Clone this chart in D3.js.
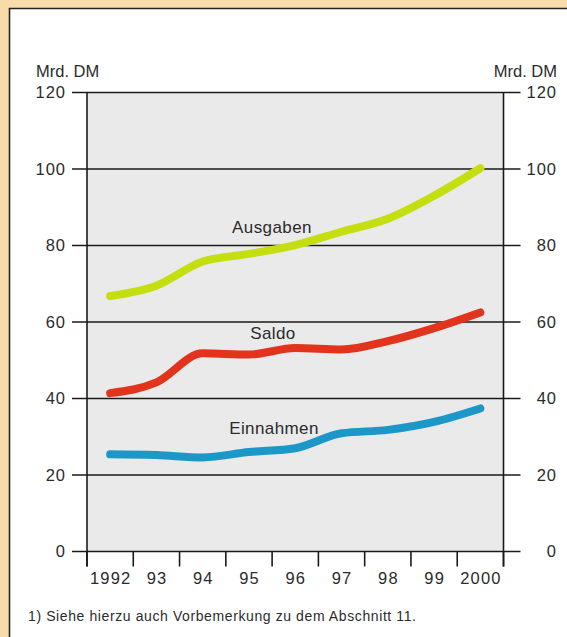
<!DOCTYPE html>
<html><head><meta charset="utf-8">
<script src="https://cdn.jsdelivr.net/npm/d3@7"></script>
<style>body{margin:0;background:#f7dcaa;}svg{display:block;font-family:"Liberation Sans",Arial,sans-serif;}</style>
</head><body>
<script>
const years = ["1992","1993","1994","1995","1996","1997","1998","1999","2000"];
const yearLabels = ["1992","93","94","95","96","97","98","99","2000"];
const ausgaben = [66.8, 69.5, 75.8, 77.8, 80.1, 83.6, 87.0, 93.0, 100.2];
const saldo = [41.4, 44.2, 51.8, 51.5, 53.2, 52.8, 55.0, 58.4, 62.5];
const einnahmen = [25.4, 25.2, 24.6, 26.0, 27.0, 30.9, 31.8, 33.9, 37.4];
const yTicks = [0, 20, 40, 60, 80, 100, 120];
const seriesNames = ["Ausgaben", "Saldo", "Einnahmen"];
const unit = "Mrd. DM";
const footnote = "1) Siehe hierzu auch Vorbemerkung zu dem Abschnitt 11.";

const W = 567, H = 637;
const svg = d3.select("body").append("svg").attr("width", W).attr("height", H);
// panel
svg.append("rect").attr("x", 9).attr("y", 9).attr("width", W - 9).attr("height", H - 9).attr("fill", "#fff");
svg.append("path").attr("d", `M9.5,${H}V8.5H${W}`).attr("fill", "none").attr("stroke", "#222").attr("stroke-width", 1.6);

const x = d3.scaleBand().domain(years).range([87, 503.5]);
const y = d3.scaleLinear().domain([0, 120]).range([551.5, 92.5]);

svg.append("rect").attr("x", x.range()[0]).attr("y", y(120)).attr("width", x.range()[1] - x.range()[0]).attr("height", y(0) - y(120)).attr("fill", "#eaeaeb");

const ink = "#1a1a1a";
// gridlines
svg.append("g").selectAll("line").data(yTicks).join("line")
  .attr("x1", x.range()[0] - 15).attr("x2", x.range()[1] + 17)
  .attr("y1", d => y(d)).attr("y2", d => y(d))
  .attr("stroke", ink).attr("stroke-width", 1.3);
// vertical axes
[x.range()[0], x.range()[1]].forEach(xx => {
  svg.append("line").attr("x1", xx).attr("x2", xx).attr("y1", y(120)).attr("y2", y(0) + 15)
    .attr("stroke", ink).attr("stroke-width", 1.6);
});
// x ticks at band boundaries
const bounds = years.map(d => x(d)).concat([x.range()[1]]);
svg.append("g").selectAll("line").data(bounds).join("line")
  .attr("x1", d => d).attr("x2", d => d).attr("y1", y(0)).attr("y2", y(0) + 15)
  .attr("stroke", ink).attr("stroke-width", 1.6);

const txt = "#2b2b2b";
// y labels
svg.append("g").selectAll("text").data(yTicks).join("text")
  .attr("x", 66).attr("y", d => y(d)).attr("dy", "0.36em").attr("text-anchor", "end")
  .attr("font-size", 16.5).attr("letter-spacing", 1).attr("fill", txt).text(d => d);
svg.append("g").selectAll("text").data(yTicks).join("text")
  .attr("x", 557).attr("y", d => y(d)).attr("dy", "0.36em").attr("text-anchor", "end")
  .attr("font-size", 16.5).attr("letter-spacing", 1).attr("fill", txt).text(d => d);
svg.append("text").attr("x", 36).attr("y", 77).attr("font-size", 16.5).attr("fill", txt).text(unit);
svg.append("text").attr("x", 557).attr("y", 77).attr("text-anchor", "end").attr("font-size", 16.5).attr("fill", txt).text(unit);
// x labels
svg.append("g").selectAll("text").data(years).join("text")
  .attr("x", d => x(d) + x.bandwidth() / 2 + 0.6).attr("y", 584).attr("text-anchor", "middle")
  .attr("font-size", 16.5).attr("letter-spacing", 1.2).attr("fill", txt).text((d, i) => yearLabels[i]);

// lines
const line = d3.line().x((d, i) => x(years[i]) + x.bandwidth() / 2).y(d => y(d)).curve(d3.curveMonotoneX);
const series = [
  {name: seriesNames[0], values: ausgaben, color: "#c4de10"},
  {name: seriesNames[1], values: saldo, color: "#e2331c"},
  {name: seriesNames[2], values: einnahmen, color: "#1c98c8"}
];
svg.append("g").selectAll("path").data(series).join("path")
  .attr("d", d => line(d.values)).attr("fill", "none").attr("stroke", d => d.color)
  .attr("stroke-width", 8).attr("stroke-linecap", "round").attr("stroke-linejoin", "round");

// series labels
const labelPos = [{x: 272, y: 232.5}, {x: 273, y: 339}, {x: 274, y: 434}];
svg.append("g").selectAll("text").data(series).join("text")
  .attr("x", (d, i) => labelPos[i].x).attr("y", (d, i) => labelPos[i].y).attr("text-anchor", "middle")
  .attr("font-size", 17).attr("letter-spacing", 0.4).attr("fill", txt).text(d => d.name);

svg.append("text").attr("x", 28).attr("y", 621).attr("font-size", 14).attr("letter-spacing", 0.6).attr("fill", txt).text(footnote);
</script>
</body></html>
